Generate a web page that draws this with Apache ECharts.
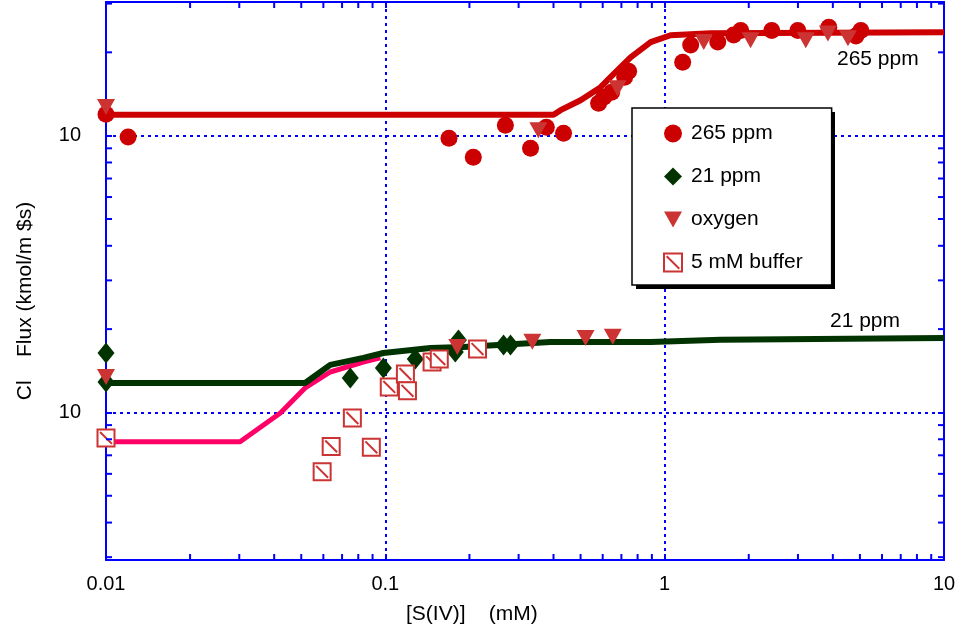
<!DOCTYPE html>
<html><head><meta charset="utf-8">
<script src="https://cdn.jsdelivr.net/npm/echarts@6/dist/echarts.min.js"></script>
<style>html,body{margin:0;padding:0;background:#fff}#c{width:964px;height:634px}</style>
</head><body><div id="c"></div>
<script>
// ---- axis definitions ----
const xMin = 0.01, xMax = 10;
const yMin = 2.93e-8, yMax = 3.04e-6;
const xTickValues = [0.01, 0.1, 1, 10];
const xTickLabels = ['0.01', '0.1', '1', '10'];
const yTickValues = [1e-7, 1e-6];
const yTickLabels = ['10', '10'];
const xMinorTicks = [0.02,0.03,0.04,0.05,0.06,0.07,0.08,0.09,0.2,0.3,0.4,0.5,0.6,0.7,0.8,0.9,2,3,4,5,6,7,8,9];
const yMinorTicks = [3e-8,4e-8,5e-8,6e-8,7e-8,8e-8,9e-8,2e-7,3e-7,4e-7,5e-7,6e-7,7e-7,8e-7,9e-7,2e-6,3e-6];

// ---- data (x = [S(IV)] mM, y = flux) ----
const ppm265 = [
  [0.01,1.196e-6],[0.0120,0.988e-6],[0.169,0.979e-6],[0.2065,0.836e-6],[0.269,1.091e-6],
  [0.331,0.901e-6],[0.377,1.073e-6],[0.4345,1.021e-6],[0.580,1.31e-6],[0.605,1.377e-6],
  [0.646,1.436e-6],[0.719,1.626e-6],[0.743,1.71e-6],[1.160,1.841e-6],[1.239,2.124e-6],
  [1.549,2.18e-6],[1.766,2.31e-6],[1.872,2.40e-6],[2.418,2.40e-6],[2.997,2.40e-6],
  [3.87,2.466e-6],[4.84,2.29e-6],[5.04,2.40e-6]
];
const ppm21 = [
  [0.01,1.64e-7],[0.01,1.288e-7],[0.0749,1.331e-7],[0.0984,1.448e-7],[0.128,1.56e-7],
  [0.178,1.653e-7],[0.1827,1.827e-7],[0.265,1.754e-7],[0.2806,1.754e-7]
];
const oxygen = [
  [0.01,1.27e-6],[0.353,1.047e-6],[0.678,1.483e-6],[1.38,2.18e-6],[2.03,2.21e-6],
  [3.20,2.21e-6],[3.84,2.34e-6],[4.53,2.25e-6],
  [0.01,1.343e-7],[0.181,1.724e-7],[0.336,1.80e-7],[0.521,1.858e-7],[0.652,1.875e-7]
];
const buffer5mM = [
  [0.01,8.09e-8],[0.0594,6.10e-8],[0.0640,7.54e-8],[0.0762,9.55e-8],[0.0891,7.48e-8],
  [0.1033,1.236e-7],[0.118,1.377e-7],[0.120,1.197e-7],[0.147,1.52e-7],[0.156,1.559e-7],
  [0.2138,1.694e-7]
];
const fit265 = [
  [0.01,1.19e-6],[0.40,1.19e-6],[0.424,1.236e-6],[0.500,1.343e-6],[0.590,1.497e-6],
  [0.640,1.626e-6],[0.755,1.919e-6],[0.891,2.176e-6],[1.05,2.306e-6],[1.46,2.345e-6],[10,2.366e-6]
];
const fit21 = [
  [0.01,1.278e-7],[0.0516,1.278e-7],[0.0635,1.486e-7],[0.0834,1.574e-7],[0.0984,1.64e-7],
  [0.145,1.71e-7],[0.1905,1.724e-7],[0.390,1.797e-7],[0.891,1.797e-7],[1.588,1.83e-7],[10,1.858e-7]
];
const fitBuffer = [
  [0.01,7.83e-8],[0.0302,7.83e-8],[0.0421,9.96e-8],[0.0516,1.226e-7],[0.0635,1.40e-7],
  [0.0834,1.52e-7],[0.096,1.574e-7]
];

const BLUE = '#0000ff';
const FONT = '"Liberation Sans", Arial, sans-serif';

function lookup(vals, labels, v) {
  for (let i = 0; i < vals.length; i++) {
    if (Math.abs(Math.log10(v) - Math.log10(vals[i])) < 1e-6) return labels[i];
  }
  return '';
}

function axisBase(extra) {
  return Object.assign({
    type: 'log', logBase: 10,
    axisLine: { show: true, onZero: false, lineStyle: { color: BLUE, width: 2 } },
    axisTick: { show: true, inside: true, length: 6, lineStyle: { color: BLUE, width: 2 } },
    minorTick: { show: false },
    splitLine: { show: false }
  }, extra);
}

const chart = echarts.init(document.getElementById('c'), null, { renderer: 'canvas' });

const tickSeries = {
  type: 'custom', silent: true, z: 6, clip: false,
  xAxisIndex: 0, yAxisIndex: 0,
  data: xMinorTicks.map(v => [v, yMin, 0]).concat(yMinorTicks.map(v => [xMin, v, 1])),
  renderItem(params, api) {
    const kind = api.value(2);
    const st = { stroke: BLUE, lineWidth: 2 };
    if (kind === 0) {
      const v = api.value(0);
      const a = api.coord([v, yMin]), b = api.coord([v, yMax]);
      return { type: 'group', children: [
        { type: 'line', shape: { x1: a[0], y1: a[1], x2: a[0], y2: a[1] - 6 }, style: st },
        { type: 'line', shape: { x1: b[0], y1: b[1], x2: b[0], y2: b[1] + 6 }, style: st }
      ]};
    } else {
      const v = api.value(1);
      const a = api.coord([xMin, v]), b = api.coord([xMax, v]);
      return { type: 'group', children: [
        { type: 'line', shape: { x1: a[0], y1: a[1], x2: a[0] + 6, y2: a[1] }, style: st },
        { type: 'line', shape: { x1: b[0], y1: b[1], x2: b[0] - 6, y2: b[1] }, style: st }
      ]};
    }
  }
};

const option = {
  animation: false,
  backgroundColor: '#fff',
  grid: { left: 106, right: 20, top: 2, bottom: 74, containLabel: false },
  xAxis: [
    axisBase({
      min: xMin, max: xMax, position: 'bottom',
      axisLabel: { show: true, margin: 14, color: '#000', fontSize: 20, fontFamily: FONT,
        formatter: v => lookup(xTickValues, xTickLabels, v) },
      splitLine: { show: true, lineStyle: { color: BLUE, width: 2, type: [3, 4] } }
    }),
    axisBase({ min: xMin, max: xMax, position: 'top', axisLabel: { show: false } })
  ],
  yAxis: [
    axisBase({
      min: yMin, max: yMax, position: 'left',
      axisLabel: { show: true, margin: 25, color: '#000', fontSize: 20, fontFamily: FONT,
        formatter: v => lookup(yTickValues, yTickLabels, v) },
      splitLine: { show: true, lineStyle: { color: BLUE, width: 2, type: [3, 4] } }
    }),
    axisBase({ min: yMin, max: yMax, position: 'right', axisLabel: { show: false } })
  ],
  legend: {
    data: ['265 ppm', '21 ppm', 'oxygen', '5 mM buffer'],
    orient: 'vertical', left: 632, top: 108,
    padding: [15, 29, 12, 31], itemGap: 22, itemWidth: 18, itemHeight: 18,
    backgroundColor: '#fff', borderColor: '#000', borderWidth: 1.5, borderRadius: 0,
    textStyle: { fontSize: 21, color: '#000', fontFamily: FONT, padding: [0, 0, 0, 4] },
    selectedMode: false, z: 10
  },
  graphic: [
    { type: 'rect', left: 636, top: 112, z: 9, shape: { width: 199, height: 177 }, style: { fill: '#000' } },
    { type: 'text', left: 837, top: 49, z: 20, style: { text: '265 ppm', font: '21px ' + FONT, fill: '#000' } },
    { type: 'text', left: 830, top: 311, z: 20, style: { text: '21 ppm', font: '21px ' + FONT, fill: '#000' } },
    { type: 'text', left: 406, top: 604, z: 20, style: { text: '[S(IV)]    (mM)', font: '21px ' + FONT, fill: '#000' } },
    { type: 'text', x: 25, y: 301, rotation: Math.PI / 2, z: 20,
      style: { text: 'Cl    Flux (kmol/m $s)', font: '21px ' + FONT, fill: '#000', align: 'center', verticalAlign: 'middle' } }
  ],
  series: [
    { name: 'fit265', type: 'line', data: fit265, showSymbol: false, symbol: 'none', z: 2, silent: true,
      lineStyle: { color: '#cc0000', width: 6 } },
    { name: 'fitBuffer', type: 'line', data: fitBuffer, showSymbol: false, symbol: 'none', z: 2, silent: true,
      lineStyle: { color: '#ff0066', width: 5 } },
    { name: 'fit21', type: 'line', data: fit21, showSymbol: false, symbol: 'none', z: 2, silent: true,
      lineStyle: { color: '#003300', width: 6 } },
    { name: '21 ppm', type: 'scatter', data: ppm21, symbol: 'diamond', symbolSize: [17, 21], z: 3,
      itemStyle: { color: '#003300', opacity: 1 } },
    { name: '265 ppm', type: 'scatter', data: ppm265, symbol: 'circle', symbolSize: 17, z: 3,
      itemStyle: { color: '#cc0000', opacity: 1 } },
    { name: 'oxygen', type: 'scatter', data: oxygen, symbol: 'path://M0,0L10,0L5,9Z', symbolSize: [18, 16], z: 3,
      itemStyle: { color: '#cc3333', opacity: 1 } },
    { name: '5 mM buffer', type: 'scatter', data: buffer5mM,
      symbol: 'path://M0,0L10,0L10,10L0,10Z M1.5,1.5L8.5,8.5', symbolSize: 17, z: 3,
      itemStyle: { color: '#ffffff', borderColor: '#cc3333', borderWidth: 2, opacity: 1 } },
    tickSeries
  ]
};
chart.setOption(option);
</script>
</body></html>
